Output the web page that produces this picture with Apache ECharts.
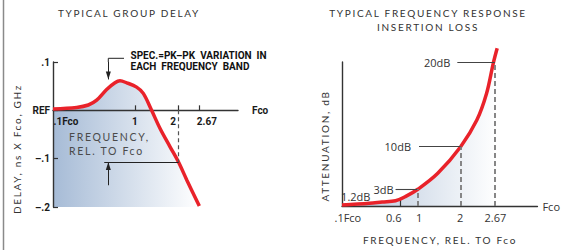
<!DOCTYPE html>
<html>
<head>
<meta charset="utf-8">
<script src="https://cdn.jsdelivr.net/npm/echarts@6.0.0/dist/echarts.min.js"></script>
<style>
  html, body { margin: 0; padding: 0; background: #fff; }
  #main { width: 563px; height: 250px; }
  /* the light captions of the original are letter-spaced */
  #main text[style*="Lato"] { letter-spacing: 1.7px; }
</style>
</head>
<body>
<div id="main"></div>
<script>
// ---- left panel: typical group delay ----
// x = place on the schematic frequency axis (0 = .1Fco, 100 = end of the axis line)
const delayX = [0, 12.8, 19.1, 23.6, 29.0, 33.5, 36.2, 39.8, 45.2, 48.8, 53.3, 57.8, 63.2, 67.7, 72.3, 79.1]
const delayY = [0.003, 0.006, 0.011, 0.021, 0.043, 0.057, 0.061, 0.057, 0.048, 0.035, 0.0, -0.037, -0.075, -0.106, -0.144, -0.198]
const delayTickPos = [44.3, 67.9, 78.9] // 1, 2, 2.67
const delayLabelPos = [7, 44.3, 64.9, 83.2]
const delayLabels = ['.1Fco', '1', '2', '2.67']
const delayYMin = -0.2
const delayYMax = 0.1
const delayYTicks = [-0.2, -0.1, 0, 0.1]
const delayYLabels = ['–.2', '–.1', 'REF', '.1']
// spec note: arrow down to the peak, arrow up to the level at 2Fco
const specArrowX = 29.9
const specPeak = 0.064
const bandEndX = 67.9
const bandEndLevel = -0.107
const bandArrowFoot = -0.155
const bandLineStart = 27.7

// ---- right panel: insertion loss ----
// x as above, y = height above the axis (0..100 = axis line length), schematic
const lossX = [0, 14, 20.5, 27.4, 32.4, 39, 49, 60.7, 69, 74, 77.4, 79.4]
const lossY = [0.7, 1.9, 2.8, 3.7, 6.5, 11.8, 22.7, 41.2, 59.7, 78.3, 99.1, 109.5]
const lossTickPos = [29.9] // 0.6
const lossLabelPos = [3, 26.5, 39.5, 60.5, 78.5]
const lossLabels = ['.1Fco', '0.6', '1', '2', '2.67']
const lossMarkX = [39, 60.7, 78.2] // 1, 2, 2.67
const lossMarkLevel = [11.8, 41.2, 99.5]
const lossMarkStart = [27.4, 39.4, 59]
const lossMarkNames = ['3dB', '10dB', '20dB']
const lowLossX = 29.9
const lowLossLevel = 4.6
const lowLossName = '1.2dB'

const RED = '#e9222a'
const pick = (pos, labels) => v => {
  const i = pos.findIndex(p => Math.abs(p - v) < 1e-6)
  return i < 0 ? '' : labels[i]
}
const zip = (a, b) => a.map((v, i) => [v, b[i]])
const fade = (c) => new echarts.graphic.LinearGradient(0, 0, 1, 0, [
  { offset: 0, color: c }, { offset: 1, color: '#ffffff' }
])
const boldFont = { fontFamily: 'Roboto', fontWeight: 'bold', fontSize: 10, color: '#1a1a1a' }
const plainFont = { fontFamily: 'Open Sans', fontSize: 11, color: '#333' }
const axisLine = { show: true, onZero: false, lineStyle: { color: '#333', width: 1.4 } }
// arrow head, pulled back so its tip sits on the end of the line
const arrowHead = { symbol: 'triangle', symbolSize: [5, 8], symbolOffset: [0, 4] }

const leftGrid = { left: 53, top: 62, width: 185, height: 145 }
// the frequency axis of the left panel sits on REF (0), not on the bottom edge
const refOffset = -(0 - delayYMin) / (delayYMax - delayYMin) * leftGrid.height

const myChart = echarts.init(document.getElementById('main'), null, { renderer: 'svg' })

const labelGap = [2, 8, 7]
const lossLines = lossMarkX.map((x, i) => [
  { coord: [x, 0], lineStyle: { type: [5, 3], color: '#7a7a7a', width: 1.8 }, label: { show: false } },
  { coord: [x, lossMarkLevel[i]] }
])
const lossLevels = lossMarkNames.map((n, i) => [
  { name: n, coord: [lossMarkStart[i], lossMarkLevel[i]], label: { distance: labelGap[i] } },
  { coord: [lossMarkX[i], lossMarkLevel[i]] }
])

var option = {
  animation: false,
  grid: [
    leftGrid,
    { left: 342, top: 62, width: 200, height: 144 }
  ],
  xAxis: [
    {
      gridIndex: 0, type: 'value', min: 0, max: 100, z: 3,
      position: 'bottom', offset: refOffset,
      axisLine: axisLine,
      axisTick: { show: true, inside: true, length: 5, customValues: delayTickPos, lineStyle: { color: '#333', width: 1.2 } },
      axisLabel: Object.assign({ customValues: delayLabelPos, formatter: pick(delayLabelPos, delayLabels), margin: 6 }, boldFont),
      splitLine: { show: false },
      name: 'Fco', nameLocation: 'end', nameGap: 14, nameTextStyle: boldFont
    },
    {
      gridIndex: 1, type: 'value', min: 0, max: 100, z: 3,
      axisLine: axisLine,
      axisTick: { show: true, inside: true, length: 6, customValues: lossTickPos, lineStyle: { color: '#333', width: 1.2 } },
      axisLabel: Object.assign({ customValues: lossLabelPos, formatter: pick(lossLabelPos, lossLabels), margin: 6 }, plainFont),
      splitLine: { show: false },
      name: 'Fco', nameLocation: 'end', nameGap: 5, nameTextStyle: plainFont
    }
  ],
  yAxis: [
    {
      gridIndex: 0, type: 'value', min: delayYMin, max: delayYMax, interval: 0.1, z: 3,
      axisLine: axisLine,
      axisTick: { show: true, inside: true, length: 5, customValues: delayYTicks, lineStyle: { color: '#333', width: 1.2 } },
      axisLabel: Object.assign({ customValues: delayYTicks, formatter: pick(delayYTicks, delayYLabels), margin: 3 }, boldFont),
      splitLine: { show: false }
    },
    {
      gridIndex: 1, type: 'value', min: 0, max: 100, z: 3,
      axisLine: axisLine,
      axisTick: { show: false },
      axisLabel: { show: false },
      splitLine: { show: false }
    }
  ],
  series: [
    {
      // shading under the delay curve, down to -.2
      type: 'line', xAxisIndex: 0, yAxisIndex: 0, z: 1,
      data: zip(delayX, delayY), smooth: 0.35, symbol: 'none',
      lineStyle: { width: 0 },
      areaStyle: { origin: 'start', color: fade('#a6bbd6'), opacity: 1 },
      silent: true
    },
    {
      type: 'line', xAxisIndex: 0, yAxisIndex: 0, z: 4, clip: false,
      data: zip(delayX, delayY), smooth: 0.35, symbol: 'none',
      lineStyle: { color: RED, width: 3.5 },
      markLine: {
        silent: true, symbol: 'none', label: { show: false },
        lineStyle: { color: '#222', width: 1, type: 'solid' },
        data: [
          [{ coord: [specArrowX, delayYMax] }, Object.assign({ coord: [specArrowX, specPeak] }, arrowHead)],
          [{ coord: [specArrowX, bandArrowFoot] }, Object.assign({ coord: [specArrowX, bandEndLevel] }, arrowHead)],
          [{ coord: [bandLineStart, bandEndLevel] }, { coord: [bandEndX, bandEndLevel] }],
          [{ coord: [bandEndX, 0], lineStyle: { type: [4, 3], color: '#555', width: 1.2 } }, { coord: [bandEndX, bandEndLevel] }]
        ]
      }
    },
    {
      type: 'line', xAxisIndex: 1, yAxisIndex: 1, z: 1, clip: false,
      data: zip(lossX, lossY), smooth: 0.35, symbol: 'none',
      lineStyle: { width: 0 },
      areaStyle: { origin: 'start', color: fade('#b3c4da'), opacity: 1 },
      silent: true
    },
    {
      type: 'line', xAxisIndex: 1, yAxisIndex: 1, z: 4, clip: false,
      data: zip(lossX, lossY), smooth: 0.35, symbol: 'none',
      lineStyle: { color: RED, width: 3.5 },
      markLine: {
        silent: true, symbol: 'none',
        label: Object.assign({ show: true, position: 'start', formatter: '{b}' }, plainFont),
        lineStyle: { color: '#444', width: 1.1, type: 'solid' },
        data: lossLevels.concat(lossLines)
      },
      markPoint: {
        silent: true, symbol: 'circle', symbolSize: 0,
        label: Object.assign({ show: true, position: 'left', distance: 30, offset: [0, -3], formatter: '{b}' }, plainFont),
        data: [{ name: lowLossName, coord: [lowLossX, lowLossLevel] }]
      }
    }
  ],
  graphic: [
    { type: 'line', shape: { x1: 3.5, y1: 0, x2: 3.5, y2: 250 }, style: { stroke: '#8a8a8a', lineWidth: 1.5 } },
    { type: 'text', x: 129, y: 13, style: { text: 'TYPICAL GROUP DELAY', fontFamily: 'Lato', fontSize: 10, fill: '#333', align: 'center', verticalAlign: 'middle' } },
    { type: 'text', x: 428, y: 13, style: { text: 'TYPICAL FREQUENCY RESPONSE', fontFamily: 'Lato', fontSize: 10, fill: '#333', align: 'center', verticalAlign: 'middle' } },
    { type: 'text', x: 428, y: 27, style: { text: 'INSERTION LOSS', fontFamily: 'Lato', fontSize: 10, fill: '#333', align: 'center', verticalAlign: 'middle' } },
    { type: 'text', x: 17, y: 149, rotation: Math.PI / 2, style: { text: 'DELAY, ns X Fco, GHz', fontFamily: 'Lato', fontSize: 10, fill: '#333', align: 'center', verticalAlign: 'middle' } },
    { type: 'text', x: 325, y: 146, rotation: Math.PI / 2, style: { text: 'ATTENUATION, dB', fontFamily: 'Lato', fontSize: 10, fill: '#333', align: 'center', verticalAlign: 'middle' } },
    { type: 'text', x: 440, y: 240, style: { text: 'FREQUENCY, REL. TO Fco', fontFamily: 'Lato', fontSize: 10, fill: '#333', align: 'center', verticalAlign: 'middle' } },
    { type: 'text', x: 69, y: 137, z: 10, style: { text: 'FREQUENCY,', fontFamily: 'Lato', fontSize: 10.5, fill: '#4a4a4a', align: 'left', verticalAlign: 'middle' } },
    { type: 'text', x: 69, y: 151, z: 10, style: { text: 'REL. TO Fco', fontFamily: 'Lato', fontSize: 10.5, fill: '#4a4a4a', align: 'left', verticalAlign: 'middle' } },
    { type: 'text', x: 130.5, y: 55.5, style: { text: 'SPEC.=PK–PK  VARIATION  IN', fontFamily: 'Roboto', fontWeight: 'bold', fontSize: 10, fill: '#111', align: 'left', verticalAlign: 'middle' } },
    { type: 'text', x: 130.5, y: 66, style: { text: 'EACH  FREQUENCY  BAND', fontFamily: 'Roboto', fontWeight: 'bold', fontSize: 10, fill: '#111', align: 'left', verticalAlign: 'middle' } },
    // leader from the note down to the top of the plot, where the arrow takes over
    { type: 'polyline', shape: { points: [[124, 58.3], [108.3, 58.3], [108.3, 62]] }, style: { stroke: '#222', lineWidth: 1 } }
  ]
}
myChart.setOption(option)
</script>
</body>
</html>
